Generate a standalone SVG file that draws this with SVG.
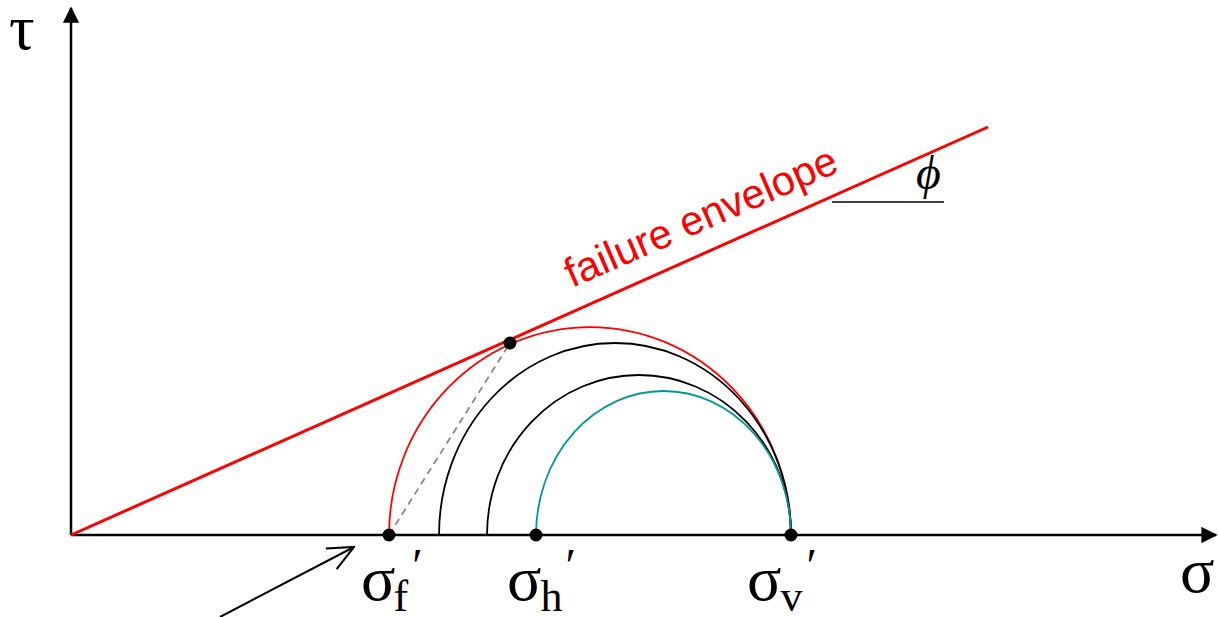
<svg xmlns="http://www.w3.org/2000/svg" width="1218" height="617" viewBox="0 0 1218 617">
<style>
.ax{stroke:#000;stroke-width:2.5;fill:none}
.sym{font-family:"Liberation Serif",serif;fill:#000}
.c{fill:none;stroke-width:1.8}
</style>
<defs>
<marker id="tri" viewBox="0 0 10 10" refX="9" refY="5" markerWidth="6.5" markerHeight="6.5" orient="auto" markerUnits="strokeWidth"><path d="M0,0 L10,5 L0,10 z" fill="#000"/></marker>
<marker id="open" viewBox="0 0 24 24" refX="23" refY="12" markerWidth="28" markerHeight="28" orient="auto" markerUnits="userSpaceOnUse"><path d="M1,2 L23,12 L1,22" fill="none" stroke="#000" stroke-width="1.8"/></marker>
</defs>
<g id="axes">
<line class="ax" x1="71" y1="535" x2="71" y2="8" marker-end="url(#tri)"/>
<line class="ax" x1="71" y1="535" x2="1216" y2="535" marker-end="url(#tri)"/>
<text class="sym" x="9" y="49" font-size="64">τ</text>
<text class="sym" x="1180" y="592" font-size="64">σ</text>
</g>
<g id="envelope">
<line x1="71" y1="535" x2="988" y2="127" stroke="#f00" stroke-width="3"/>
<text x="0" y="0" font-family="Liberation Sans,sans-serif" font-size="41.5" fill="#f00" transform="translate(572,288) rotate(-23.5)">failure envelope</text>
<line x1="832" y1="202" x2="944" y2="202" stroke="#000" stroke-width="1.5"/>
<text x="916" y="189" font-family="Liberation Serif,serif" font-style="italic" font-size="48">ϕ</text>
</g>
<g id="circles">
<path class="c" stroke="#f00" d="M389,535 A201,208 0 0 1 791,535"/>
<path class="c" stroke="#000" d="M439,535 A176,192 0 0 1 791,535"/>
<path class="c" stroke="#000" d="M487,535 A152,160 0 0 1 791,535"/>
<path class="c" stroke="#009999" d="M536,535 A127.5,144 0 0 1 791,535"/>
</g>
<g id="connectors">
<line x1="389" y1="535" x2="510" y2="343" stroke="#888" stroke-width="1.8" stroke-dasharray="7,5"/>
<line x1="220" y1="617" x2="354" y2="547" stroke="#000" stroke-width="2" marker-end="url(#open)"/>
</g>
<g id="points">
<circle cx="389" cy="535" r="6.5"/>
<circle cx="536" cy="535" r="6.5"/>
<circle cx="791" cy="535" r="6.5"/>
<circle cx="510" cy="343" r="6.5"/>
</g>
<g id="labels" class="sym">
<text x="361" y="600" font-size="64">σ<tspan font-size="44" dy="11" dx="-2">f</tspan><tspan font-size="48" dy="-29" dx="4">′</tspan></text>
<text x="507" y="600" font-size="64">σ<tspan font-size="44" dy="11" dx="-1">h</tspan><tspan font-size="48" dy="-29" dx="3">′</tspan></text>
<text x="747" y="600" font-size="64">σ<tspan font-size="44" dy="11" dx="-1">v</tspan><tspan font-size="48" dy="-29" dx="4">′</tspan></text>
</g>
</svg>
